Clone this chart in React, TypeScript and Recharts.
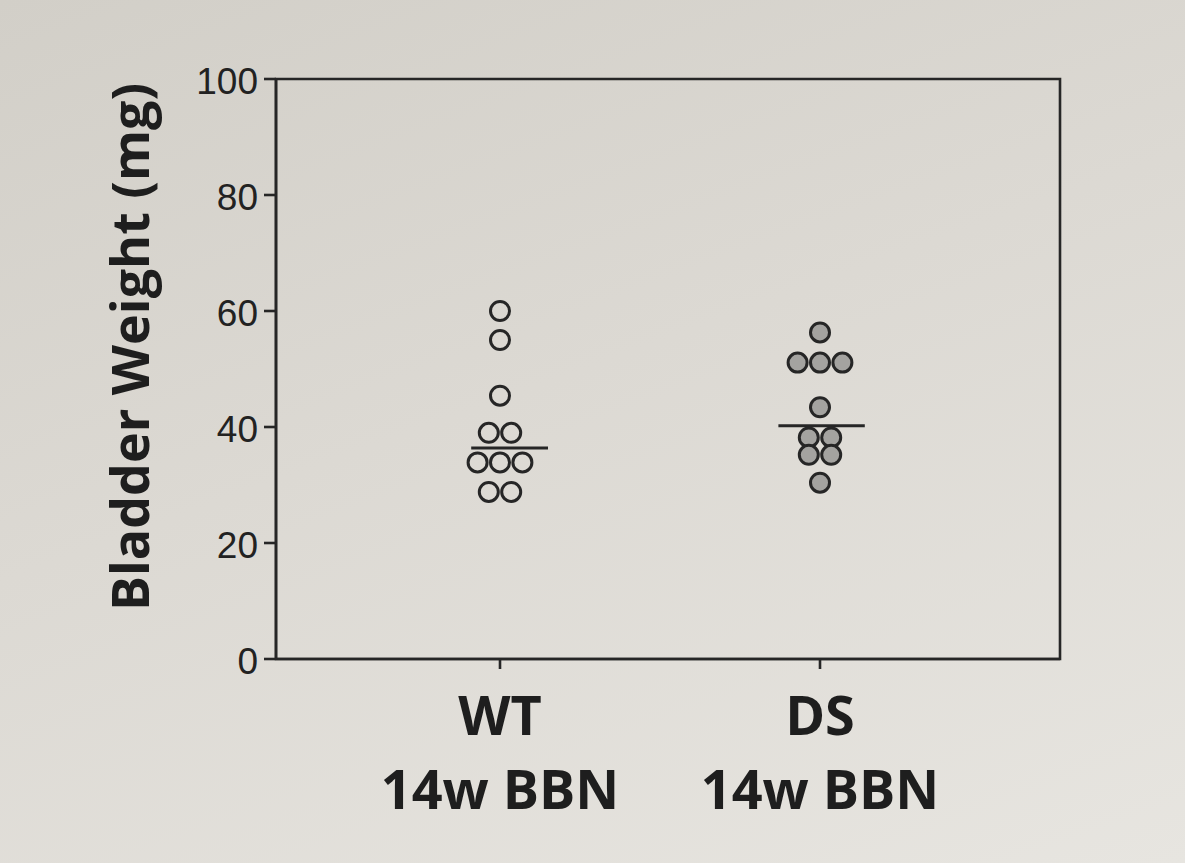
import React from 'react';
import { ScatterChart, Scatter, XAxis, YAxis, ReferenceLine, ReferenceArea } from 'recharts';

// group positions on the numeric x axis
const groups = ['WT', 'DS'];
const groupSubLabel = '14w BBN';
const yTicks = [0, 20, 40, 60, 80, 100];

// bladder weights (mg), with small horizontal jitter
const wtValues = [60, 55, 45.4, 39, 39, 33.9, 33.9, 33.9, 28.8, 28.8];
const wtJitter = [0, 0, 0, -0.035, 0.035, -0.07, 0, 0.07, -0.035, 0.035];
const dsValues = [56.3, 51.1, 51.1, 51.1, 43.4, 38.2, 38.2, 35.2, 35.2, 30.4];
const dsJitter = [0, -0.07, 0, 0.07, 0, -0.035, 0.035, -0.035, 0.035, 0];

const wtMedian = 36.4;
const dsMedian = 40.2;

const wtData = wtValues.map((v, i) => ({ x: 1 + wtJitter[i], y: v }));
const dsData = dsValues.map((v, i) => ({ x: 2 + dsJitter[i], y: v }));

const ink = '#262626';
const fontFam = '"Open Sans", "Liberation Sans", Arial, sans-serif';

const OpenDot = (props: any) => (
  <circle cx={props.cx} cy={props.cy} r={9.5} fill="none" stroke={ink} strokeWidth={3} />
);
const GreyDot = (props: any) => (
  <circle cx={props.cx} cy={props.cy} r={9.5} fill="#a4a3a0" stroke={ink} strokeWidth={3} />
);

const GroupTick = (props: any) => {
  const { x, y, payload } = props;
  const name = groups[payload.value - 1];
  return (
    <g>
      <text x={x} y={y + 64} textAnchor="middle" fontFamily={fontFam} fontWeight={700} fontSize={54} fill="#1e1e1e">
        {name}
      </text>
      <text x={x} y={y + 138} textAnchor="middle" fontFamily={fontFam} fontWeight={700} fontSize={54} fill="#1e1e1e">
        {groupSubLabel}
      </text>
    </g>
  );
};

const YLabel = () => (
  <text
    transform="translate(128,347) rotate(-90)"
    textAnchor="middle"
    dominantBaseline="central"
    fontFamily={fontFam}
    fontWeight={700}
    fontSize={52}
    fill="#1e1e1e"
  >
    Bladder Weight (mg)
  </text>
);

export default function App() {
  return (
    <div
      style={{
        position: 'fixed',
        left: 0,
        top: 0,
        width: 1185,
        height: 863,
        background: 'linear-gradient(160deg, #d2cfc8 0%, #dcd9d3 45%, #e7e5e0 100%)',
      }}
    >
      <ScatterChart width={1185} height={863} margin={{ top: 79, right: 125, bottom: 0, left: 0 }}>
        <XAxis
          type="number"
          dataKey="x"
          domain={[0.3, 2.75]}
          ticks={[1, 2]}
          allowDataOverflow
          height={204}
          tickSize={10}
          stroke={ink}
          strokeWidth={2.6}
          tick={<GroupTick />}
        />
        <YAxis
          type="number"
          dataKey="y"
          domain={[0, 100]}
          ticks={yTicks}
          width={276}
          tickSize={12}
          tickMargin={6}
          stroke={ink}
          strokeWidth={2.6}
          tick={{ fill: '#222', fontSize: 37, fontFamily: '"Liberation Sans", Arial, sans-serif', dy: 2 }}
          label={<YLabel />}
        />
        <ReferenceArea x1={0.3} x2={2.75} y1={0} y2={100} fill="none" stroke={ink} strokeWidth={2.6} ifOverflow="visible" />
        <ReferenceLine
          segment={[{ x: 0.91, y: wtMedian }, { x: 1.15, y: wtMedian }]}
          stroke={ink}
          strokeWidth={3}
        />
        <ReferenceLine
          segment={[{ x: 1.87, y: dsMedian }, { x: 2.14, y: dsMedian }]}
          stroke={ink}
          strokeWidth={3}
        />
        <Scatter data={wtData} shape={<OpenDot />} isAnimationActive={false} />
        <Scatter data={dsData} shape={<GreyDot />} isAnimationActive={false} />
      </ScatterChart>
    </div>
  );
}
